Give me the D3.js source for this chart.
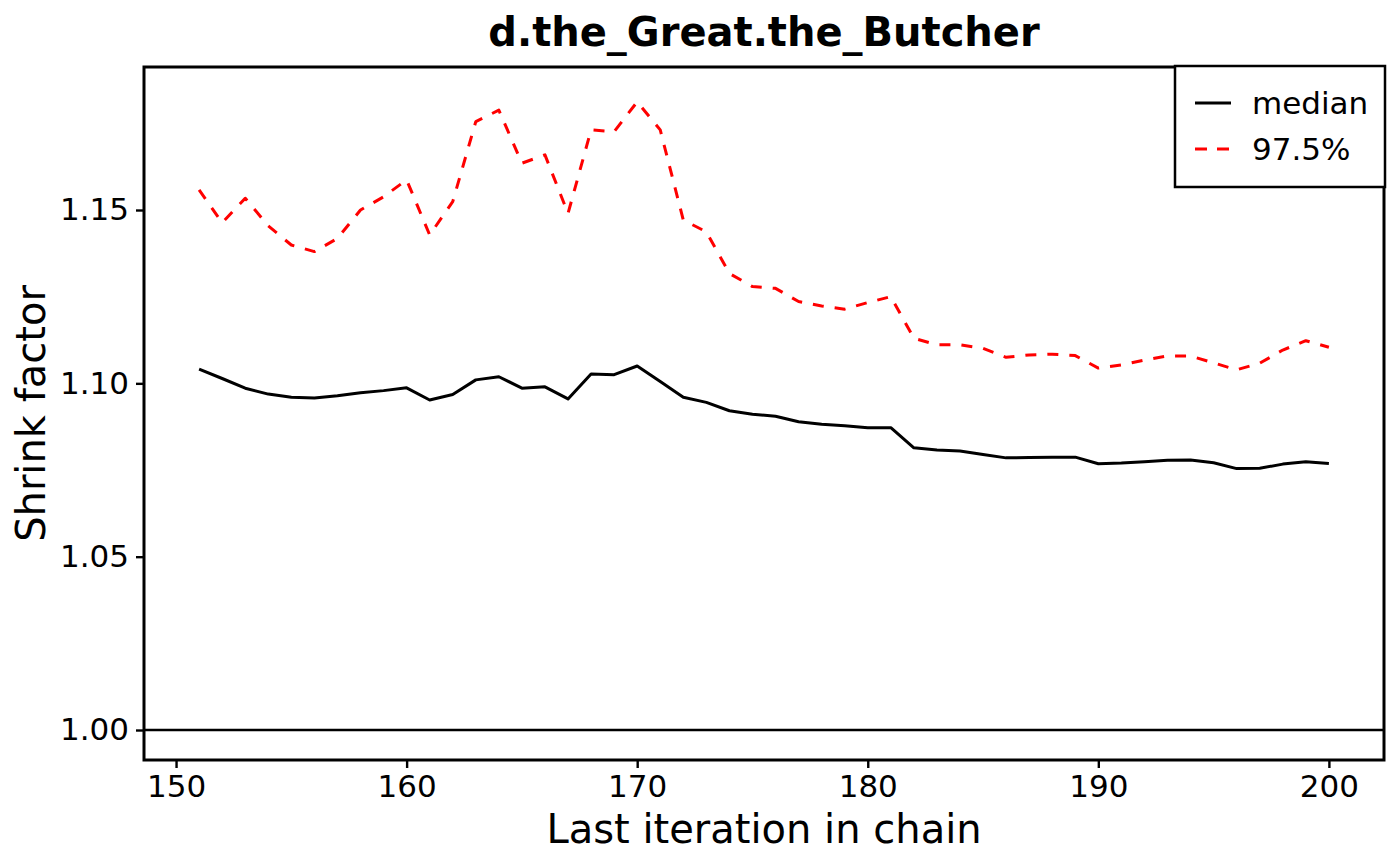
<!DOCTYPE html>
<html>
<head>
<meta charset="utf-8">
<script src="https://cdn.jsdelivr.net/npm/d3@7"></script>
<style>
  body { margin: 0; background: #fff; }
  svg { display: block; font-family: "DejaVu Sans", sans-serif; }
</style>
</head>
<body>
<svg id="chart" width="1400" height="866"></svg>
<script>
// Gelman shrink factor per last iteration
const iterations = [151, 152, 153, 154, 155, 156, 157, 158, 159, 160,
    161, 162, 163, 164, 165, 166, 167, 168, 169, 170,
    171, 172, 173, 174, 175, 176, 177, 178, 179, 180,
    181, 182, 183, 184, 185, 186, 187, 188, 189, 190,
    191, 192, 193, 194, 195, 196, 197, 198, 199, 200];

const median = [1.1041, 1.1014, 1.0986, 1.0969, 1.0960, 1.0958, 1.0964, 1.0973, 1.0979, 1.0987,
    1.0952, 1.0968, 1.1010, 1.1019, 1.0986, 1.0990, 1.0955, 1.1027, 1.1025, 1.1050,
    1.1005, 1.0960, 1.0945, 1.0921, 1.0911, 1.0905, 1.0889, 1.0882, 1.0878, 1.0872,
    1.0872, 1.0814, 1.0808, 1.0805, 1.0795, 1.0785, 1.0786, 1.0787, 1.0787, 1.0768,
    1.0770, 1.0774, 1.0778, 1.0779, 1.0771, 1.0754, 1.0755, 1.0767, 1.0774, 1.0769];

const upper = [1.1558, 1.1463, 1.1534, 1.1454, 1.1399, 1.1380, 1.1418, 1.1500, 1.1538, 1.1587,
    1.1428, 1.1524, 1.1755, 1.1788, 1.1635, 1.1659, 1.1490, 1.1731, 1.1726, 1.1812,
    1.1731, 1.1471, 1.1437, 1.1317, 1.1279, 1.1274, 1.1236, 1.1223, 1.1214, 1.1233,
    1.1250, 1.1130, 1.1111, 1.1111, 1.1101, 1.1075, 1.1082, 1.1084, 1.1080, 1.1044,
    1.1053, 1.1067, 1.1079, 1.1079, 1.1059, 1.1039, 1.1058, 1.1096, 1.1123, 1.1104];

const xTicks = [150, 160, 170, 180, 190, 200];
const yTicks = [1.00, 1.05, 1.10, 1.15];
const seriesNames = ["median", "97.5%"];

const title = "d.the_Great.the_Butcher";
const xLabel = "Last iteration in chain";
const yLabel = "Shrink factor";

const plot = { left: 144, right: 1384, top: 67, bottom: 760 };

const svg = d3.select("#chart");

const x = d3.scaleLinear()
    .domain([148.61, 202.39])
    .range([plot.left, plot.right]);

const y = d3.scaleLinear()
    .domain([0.99135, 1.19125])
    .range([plot.bottom, plot.top]);

const series = [
    { name: seriesNames[0], values: median, color: "#000", dash: null },
    { name: seriesNames[1], values: upper, color: "#ff0000", dash: "11 11" }
];

// Reference line at 1
svg.append("line")
    .attr("x1", plot.left)
    .attr("x2", plot.right)
    .attr("y1", y(1))
    .attr("y2", y(1))
    .attr("stroke", "#000")
    .attr("stroke-width", 2.4);

const line = d3.line()
    .x((d, i) => x(iterations[i]))
    .y(d => y(d));

svg.selectAll(".series")
    .data(series)
    .enter()
    .append("path")
    .attr("class", "series")
    .attr("d", d => line(d.values))
    .attr("fill", "none")
    .attr("stroke", d => d.color)
    .attr("stroke-width", 3)
    .attr("stroke-dasharray", d => d.dash)
    .attr("stroke-linejoin", "round");

// Axes
const xAxis = d3.axisBottom(x)
    .tickValues(xTicks)
    .tickSize(8)
    .tickPadding(7)
    .tickFormat(d3.format("d"));

const yAxis = d3.axisLeft(y)
    .tickValues(yTicks)
    .tickSize(8)
    .tickPadding(7)
    .tickFormat(d3.format(".2f"));

const xAxisGroup = svg.append("g")
    .attr("transform", `translate(0,${plot.bottom})`)
    .call(xAxis);

const yAxisGroup = svg.append("g")
    .attr("transform", `translate(${plot.left},0)`)
    .call(yAxis);

[xAxisGroup, yAxisGroup].forEach(g => {
    g.select(".domain").remove();
    g.selectAll(".tick line")
        .attr("stroke", "#000")
        .attr("stroke-width", 2.4);
    g.selectAll("text")
        .attr("fill", "#000")
        .style("font-family", "DejaVu Sans")
        .style("font-size", "31px");
});

// Box around the plot
svg.append("rect")
    .attr("x", plot.left)
    .attr("y", plot.top)
    .attr("width", plot.right - plot.left)
    .attr("height", plot.bottom - plot.top)
    .attr("fill", "none")
    .attr("stroke", "#000")
    .attr("stroke-width", 3);

// Labels
svg.append("text")
    .attr("x", (plot.left + plot.right) / 2)
    .attr("y", 46)
    .attr("text-anchor", "middle")
    .style("font-size", "40px")
    .style("font-weight", "bold")
    .text(title);

svg.append("text")
    .attr("x", (plot.left + plot.right) / 2)
    .attr("y", 843)
    .attr("text-anchor", "middle")
    .style("font-size", "40px")
    .text(xLabel);

svg.append("text")
    .attr("transform", `translate(45,${(plot.top + plot.bottom) / 2}) rotate(-90)`)
    .attr("text-anchor", "middle")
    .style("font-size", "40px")
    .text(yLabel);

// Legend
const legend = svg.append("g")
    .attr("transform", "translate(1175,66)");

legend.append("rect")
    .attr("width", 210)
    .attr("height", 121)
    .attr("fill", "#fff")
    .attr("stroke", "#000")
    .attr("stroke-width", 2.5);

const legendItem = legend.selectAll(".legend-item")
    .data(series)
    .enter()
    .append("g")
    .attr("class", "legend-item")
    .attr("transform", (d, i) => `translate(0,${37 + i * 46})`);

legendItem.append("line")
    .attr("x1", 20)
    .attr("x2", 56)
    .attr("stroke", d => d.color)
    .attr("stroke-width", 3)
    .attr("stroke-dasharray", d => d.dash ? "12 10" : null);

legendItem.append("text")
    .attr("x", 77)
    .attr("dy", "0.36em")
    .style("font-size", "31px")
    .text(d => d.name);
</script>
</body>
</html>
